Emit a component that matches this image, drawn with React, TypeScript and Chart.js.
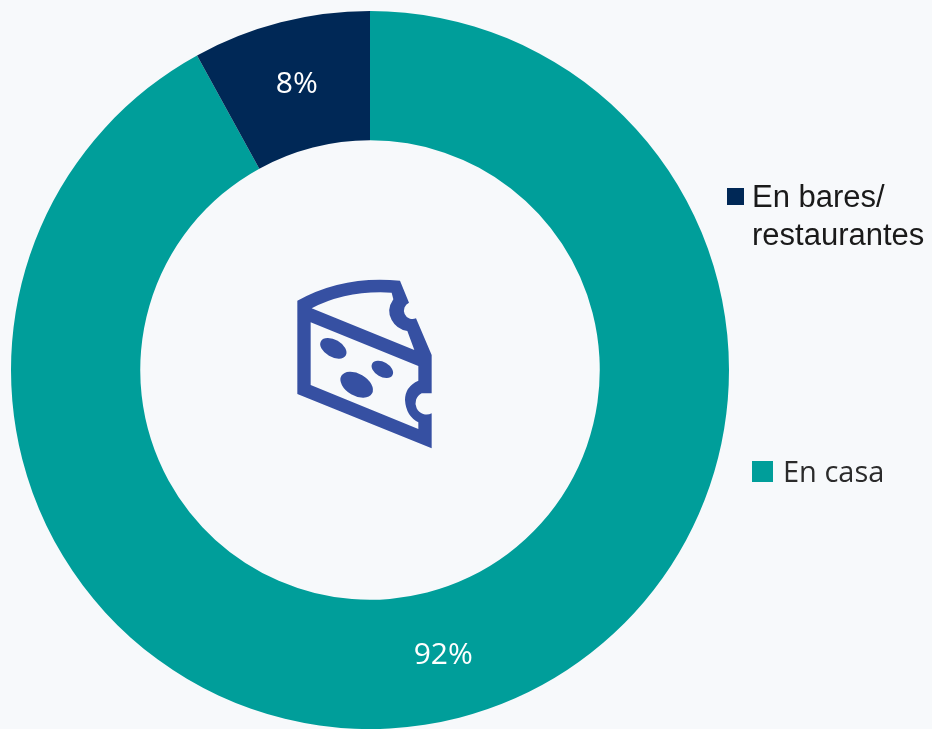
import React, { useEffect, useRef } from "react";
import { Chart, registerables } from "chart.js";

Chart.register(...registerables);

const categories = ["En casa", "En bares/ restaurantes"];
const values = [92, 8];
const colors = ["#009E9A", "#002856"];
const valueLabels = ["92%", "8%"];
const BG = "#F7F9FB";

const sliceLabels = {
  id: "sliceLabels",
  afterDatasetsDraw(chart: any) {
    const { ctx } = chart;
    const arcs = chart.getDatasetMeta(0).data;
    ctx.save();
    ctx.fillStyle = "#FFFFFF";
    ctx.font = '30px "Open Sans"';
    ctx.textAlign = "center";
    ctx.textBaseline = "middle";
    arcs.forEach((arc: any, i: number) => {
      const p = arc.tooltipPosition();
      ctx.fillText(valueLabels[i], p.x, p.y);
    });
    ctx.restore();
  },
};

export default function App() {
  const ref = useRef<HTMLCanvasElement>(null);
  useEffect(() => {
    document.body.style.margin = "0";
    document.body.style.background = BG;
    const chart = new Chart(ref.current!, {
      type: "doughnut",
      data: {
        labels: categories,
        datasets: [{ data: values, backgroundColor: colors, borderWidth: 0 }],
      },
      options: {
        animation: false,
        responsive: false,
        cutout: "64%",
        layout: { padding: { left: 11, top: 11, right: 203, bottom: 0 } },
        plugins: { legend: { display: false }, tooltip: { enabled: false } },
      },
      plugins: [sliceLabels],
    });
    return () => chart.destroy();
  }, []);

  return (
    <div style={{ position: "relative", width: 932, height: 729, background: BG, overflow: "hidden" }}>
      <canvas ref={ref} width={932} height={729} style={{ position: "absolute", left: 0, top: 0 }} />
      <svg
        width={170}
        height={200}
        viewBox="0 0 510 600"
        style={{ position: "absolute", left: 280, top: 260 }}
      >
        <path
          fill="#3650A2"
          fillRule="evenodd"
          d="M52 122 Q190 45 360 62 L387 128 A24 24 0 0 0 408 175 L455 285 V400 H425 A30 30 0 0 0 455 460 V565 L52 402 Z
             M95 145 Q200 90 335 98 L340 118 Q318 150 335 180 Q350 208 382 213 L403 270 Z
             M92 187 L415 318 V362 Q375 380 375 420 Q378 468 415 487 V507 L92 375 Z"
        />
        <ellipse cx="160" cy="265" rx="43" ry="26" transform="rotate(30 160 265)" fill="#3650A2" />
        <ellipse cx="307" cy="328" rx="35" ry="22" transform="rotate(30 307 328)" fill="#3650A2" />
        <ellipse cx="230" cy="374" rx="53" ry="33" transform="rotate(30 230 374)" fill="#3650A2" />
      </svg>
      <div style={{ position: "absolute", left: 727, top: 188, width: 17, height: 17, background: colors[1] }} />
      <div
        style={{
          position: "absolute",
          left: 752,
          top: 178,
          font: '31px/38px "Liberation Sans"',
          color: "#1A1A1A",
          whiteSpace: "nowrap",
        }}
      >
        En bares/
        <br />
        restaurantes
      </div>
      <div style={{ position: "absolute", left: 752, top: 461, width: 21, height: 21, background: colors[0] }} />
      <div
        style={{
          position: "absolute",
          left: 783,
          top: 450,
          font: '29px/42px "Open Sans"',
          color: "#2B2B2B",
          whiteSpace: "nowrap",
        }}
      >
        {categories[0]}
      </div>
    </div>
  );
}
